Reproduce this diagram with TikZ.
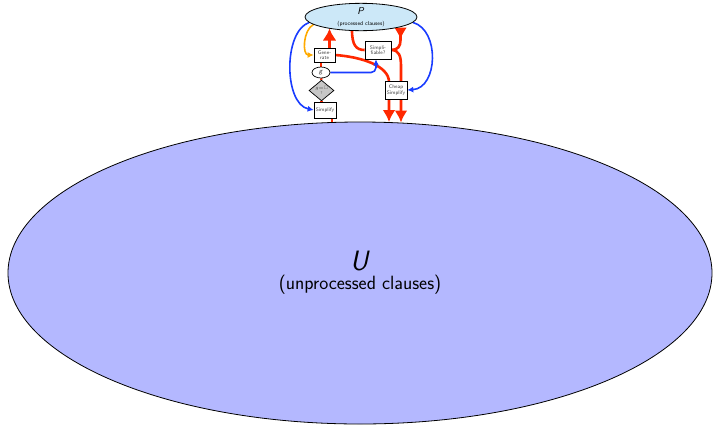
\documentclass[tikz,border=0pt]{standalone}
\usepackage{amssymb}
\usepackage{fontspec}
\usetikzlibrary{shapes.geometric,arrows.meta}
\pgfdeclarelayer{background}
\pgfsetlayers{background,main}
\definecolor{procfill}{RGB}{204,232,248}
\definecolor{unprocfill}{RGB}{180,184,255}
\definecolor{flowred}{RGB}{255,40,0}
\definecolor{flowblue}{RGB}{25,60,255}
\definecolor{floworange}{RGB}{255,170,0}
\begin{document}
\begin{tikzpicture}[x=1pt,y=-1pt,font=\sffamily,
  stepbox/.style={draw=black,line width=0.7pt,fill=white,inner sep=0pt,align=center,
    font=\sffamily\fontsize{5.2}{5.4}\selectfont,text=black!75},
  redflow/.style={draw=flowred,line width=2.6pt},
  bluetip/.style={-{Latex[length=6pt,width=6pt]}},
  blueflow/.style={draw=flowblue,line width=1.6pt,bluetip},
  bigtip/.style={-{Latex[length=12pt,width=13pt]}}]
\useasboundingbox (0,0) rectangle (713,424);

% clause sets
\node[ellipse,draw=black,line width=0.8pt,fill=unprocfill,minimum width=704pt,
  minimum height=302pt,inner sep=0pt,align=center] (U) at (360,273)
  {{\fontsize{28}{28}\selectfont\textit{U}}\\[3pt]{\fontsize{19.2}{19}\selectfont (unprocessed clauses)}};
\node[ellipse,draw=black,line width=0.8pt,fill=procfill,minimum width=112pt,
  minimum height=27pt,inner sep=0pt,align=center] (P) at (361,17)
  {{\fontsize{10}{9}\selectfont\textit{P}}\\[-1pt]{\fontsize{5.6}{5.6}\selectfont (processed clauses)}};

% processing steps
\node[stepbox,minimum width=21pt,minimum height=14pt] (gen) at (324.5,55) {Gene-\\rate};
\node[stepbox,ellipse,minimum width=18pt,minimum height=11pt,
  font=\sffamily\fontsize{7}{7}\selectfont] (g) at (321,72.5) {\textit{g}};
\node[stepbox,diamond,fill=black!22,minimum width=25pt,minimum height=19pt,
  font=\sffamily\fontsize{3.8}{3.6}\selectfont] (test)
  at (321.5,90.5) {$g{=}\square$\\?};
\node[stepbox,minimum width=22pt,minimum height=16pt] (simp) at (325,110) {Simplify};
\node[stepbox,minimum width=26pt,minimum height=18pt] (sf) at (378,50) {Simpli-\\fiable?};
\node[stepbox,minimum width=22pt,minimum height=18pt] (cs) at (396,90) {Cheap\\Simplify};

% end points on the clause sets
\coordinate (u1) at (332,122);
\coordinate (u2) at (389,122);
\coordinate (u3) at (401,122.5);
\coordinate (pg) at (329.5,28.5);
\coordinate (pa) at (352,30);
\coordinate (pb) at (400.5,27.5);

\begin{pgfonlayer}{background}
  % main loop
  \draw[redflow] (u1) -- (u1 |- simp.south);
  \draw[redflow] (test.south |- simp.north) -- (test.south);
  \draw[redflow] (test.north) -- (g.south);
  \draw[redflow] (g.north) -- (gen.south -| g.north);
  \draw[redflow,-{Latex[length=12pt,width=14pt]}] (gen.north -| pg) -- (pg);
  \draw[redflow,bigtip] (gen.east) .. controls (362,57) and (389,66) .. (389,82) -- (u2);
  \draw[redflow] (pa) .. controls (352,45) and (356,50) .. (sf.west);
  \draw[redflow,{Latex[reversed,length=12pt,width=13pt]}-] (pb) -- (400.5,40)
    .. controls (400.5,46) and (398,50) .. (sf.east);
  \draw[redflow,bigtip] (sf.east) .. controls (399,50) and (401,56) .. (401,66) -- (u3);
  % clauses from P used by the steps
  \draw[blueflow] (P.186) .. controls (283,32) and (284,104) .. (simp.west);
  \draw[blueflow,draw=floworange] (P.189) .. controls (303,30) and (302,55) .. (gen.west);
  \draw[blueflow] (P.-6) .. controls (440,30) and (438,88) .. (cs.east);
  \draw[blueflow,rounded corners=5pt] (g.east) -| ([xshift=-2pt]sf.south);
\end{pgfonlayer}
\end{tikzpicture}
\end{document}
